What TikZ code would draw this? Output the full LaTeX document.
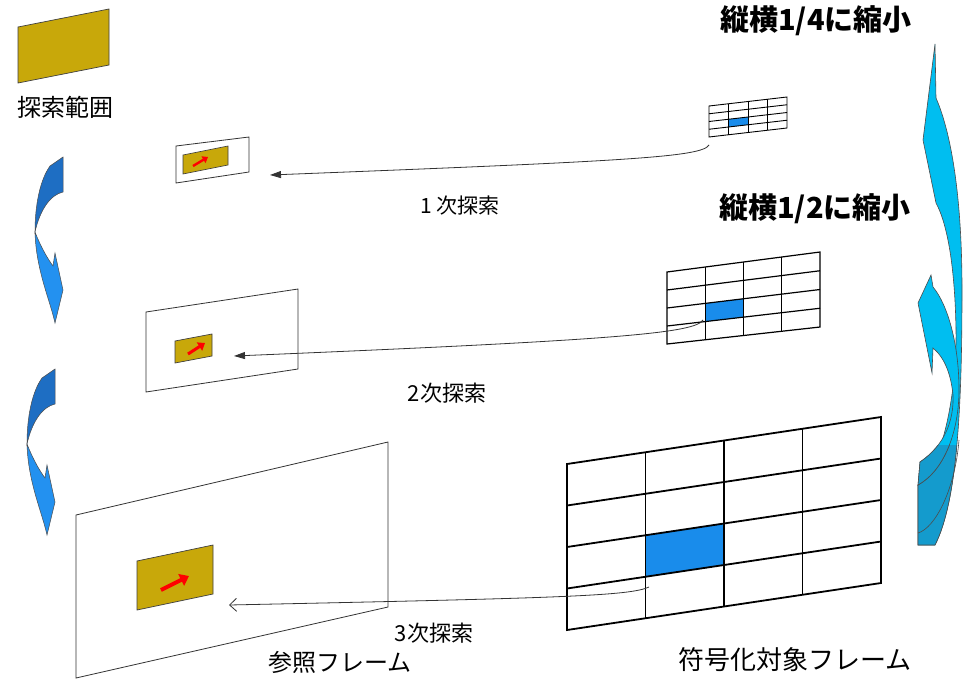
\documentclass[tikz,border=0pt]{standalone}
\usepackage{fontspec}
\setmainfont{Noto Sans CJK JP}
\usetikzlibrary{arrows.meta,calc}
\definecolor{gold}{RGB}{200,168,10}
\definecolor{cellblue}{RGB}{25,140,235}
\definecolor{darkblue}{RGB}{30,110,195}
\definecolor{lightblue}{RGB}{35,145,240}
\definecolor{cyanA}{RGB}{0,190,240}
\definecolor{tealA}{RGB}{20,155,205}
\newcommand\pgridlines[2]{%
  \coordinate (#1c1t) at ($(#1TL)!0.25!(#1TR)$);
  \coordinate (#1c2t) at ($(#1TL)!0.5!(#1TR)$);
  \coordinate (#1c1b) at ($(#1BL)!0.25!(#1BR)$);
  \coordinate (#1c2b) at ($(#1BL)!0.5!(#1BR)$);
  \fill[cellblue] ($(#1c1t)!0.5!(#1c1b)$) -- ($(#1c2t)!0.5!(#1c2b)$) -- ($(#1c2t)!0.75!(#1c2b)$) -- ($(#1c1t)!0.75!(#1c1b)$) -- cycle;
  \foreach \k in {0.25,0.5,0.75}{
    \draw[line width=#2] ($(#1TL)!\k!(#1TR)$) -- ($(#1BL)!\k!(#1BR)$);
    \draw[line width=#2] ($(#1TL)!\k!(#1BL)$) -- ($(#1TR)!\k!(#1BR)$);
  }
  \draw[line width=#2] (#1TL) -- (#1TR) -- (#1BR) -- (#1BL) -- cycle;
}
\tikzset{
  frame/.style={draw=black!80, line width=0.8pt},
  goldbox/.style={fill=gold, draw=black!75, line width=0.7pt},
  redarrow/.style={red, line cap=butt, -{Triangle[length=0pt 2.2,width=0pt 3.2]}},
  conn/.style={draw=black!80, line width=0.8pt},
  lbl/.style={font=\fontsize{22}{26}\selectfont, inner sep=0pt},
  head/.style={font=\fontsize{29}{33}\selectfont\bfseries, inner sep=0pt},
  leftarrowdark/.style={fill=darkblue, draw=black!70, line width=0.5pt},
  leftarrowlight/.style={fill=lightblue, draw=black!70, line width=0.5pt},
  rightarrow/.style={fill=cyanA, draw=black!70, line width=0.6pt},
}
\begin{document}
\begin{tikzpicture}[x=1pt,y=-1pt]
\useasboundingbox (0,0) rectangle (963,683);
\fill[white] (0,0) rectangle (963,683);

% search range legend
\filldraw[goldbox] (18,27) -- (109,9) -- (109,65) -- (18,83) -- cycle;
\node[lbl, font=\fontsize{24}{27}\selectfont] (range) at (65,107) {探索範囲};

% left curved arrows
\foreach \sx/\sy in {0/0,-8/212}{
\begin{scope}[shift={(\sx,\sy)}]
  \filldraw[leftarrowdark] (50,166) -- (63,157) -- (63,192) .. controls (50,195) and (40,210) .. (35,232) .. controls (35,205) and (40,180) .. cycle;
  \filldraw[leftarrowlight] (35,232) .. controls (40,245) and (47,258) .. (53,266) -- (55,253) -- (63,290) -- (55,323) .. controls (50,300) and (36,270) .. cycle;
\end{scope}
}

% right curved arrows
\def\rone{(935,44) -- (936,98) .. controls (952,135) and (962,200) .. (962,290) .. controls (962,400) and (958,500) .. (935,545) -- (918,545) -- (918,485) .. controls (940,470) and (957,400) .. (956,330) .. controls (955,270) and (948,225) .. (936,203) -- (923,140) -- cycle}
\def\rtwo{(931,275) -- (933,287) .. controls (948,305) and (959,345) .. (959,390) .. controls (959,430) and (945,470) .. (918,485) -- (920,462) .. controls (945,445) and (954,420) .. (953,395) .. controls (951,375) and (945,358) .. (933,348) -- (932,373) -- (918,303) -- cycle}
\filldraw[rightarrow] \rone;
\begin{scope}
  \clip (900,445) rectangle (963,560);
  \filldraw[rightarrow, fill=tealA] \rone;
\end{scope}
\draw[draw=black!70, line width=0.6pt] (918,533) .. controls (935,528) and (955,490) .. (959,440);
\filldraw[rightarrow] \rtwo;
\begin{scope}
  \clip (900,445) rectangle (963,560);
  \filldraw[rightarrow, fill=tealA] \rtwo;
\end{scope}

% headings
\node[head] (h1) at (816,21) {縦横1/4に縮小};
\node[head] (h2) at (815,209) {縦横1/2に縮小};

% reference frames
\filldraw[frame, fill=white] (176,146) -- (249,137) -- (249,172) -- (176,183) -- cycle;
\filldraw[goldbox, line width=0.6pt] (183,155) -- (228,146) -- (228,165) -- (183,174) -- cycle;
\draw[redarrow, line width=2.4pt] (193,166) -- (208,157);

\filldraw[frame, fill=white] (146,312) -- (298,289) -- (298,369) -- (146,392) -- cycle;
\filldraw[goldbox] (175,341) -- (212,334) -- (212,356) -- (175,363) -- cycle;
\draw[redarrow, line width=3pt] (188,354) -- (205,343);

\filldraw[frame, fill=white] (76,515) -- (388,442) -- (388,607) -- (76,678) -- cycle;
\filldraw[goldbox] (137,561) -- (213,545) -- (213,594) -- (137,610) -- cycle;
\draw[redarrow, line width=4pt] (161,590) -- (189,576);

% target frames (grids)
\coordinate (aTL) at (709,106); \coordinate (aTR) at (787,97);
\coordinate (aBR) at (787,128); \coordinate (aBL) at (709,137);
\pgridlines{a}{0.9pt}
\coordinate (bTL) at (667,272); \coordinate (bTR) at (820,252);
\coordinate (bBR) at (820,327); \coordinate (bBL) at (667,344);
\pgridlines{b}{1.2pt}
\coordinate (cTL) at (567,464); \coordinate (cTR) at (881,417);
\coordinate (cBR) at (881,583); \coordinate (cBL) at (567,630);
\pgridlines{c}{1.8pt}

% connectors
\coordinate (s1) at (709,145); \coordinate (t1) at (270,175);
\coordinate (s2) at (703,320); \coordinate (t2) at (234,356);
\coordinate (s3) at (649,587); \coordinate (t3) at (229,605);
\draw[conn, -{Triangle[length=11pt,width=7pt]}] (s1) .. controls (702,157) and (630,161) .. (t1);
\draw[conn, -{Triangle[length=11pt,width=7pt]}] (s2) .. controls (695,333) and (620,340) .. (t2);
\draw[conn, -{Straight Barb[length=7pt,width=13pt]}] (s3) .. controls (630,596) and (560,598) .. (t3);

% labels
\node[lbl, font=\fontsize{21}{25}\selectfont] (l1) at (460,206) {1 次探索};
\node[lbl] (l2) at (447,393) {2次探索};
\node[lbl] (l3) at (434,633) {3次探索};
\node[lbl, font=\fontsize{24}{27}\selectfont] (ref) at (340,662) {参照フレーム};
\node[lbl, font=\fontsize{26}{29}\selectfont] (tgt) at (795,660) {符号化対象フレーム};
\end{tikzpicture}
\end{document}
